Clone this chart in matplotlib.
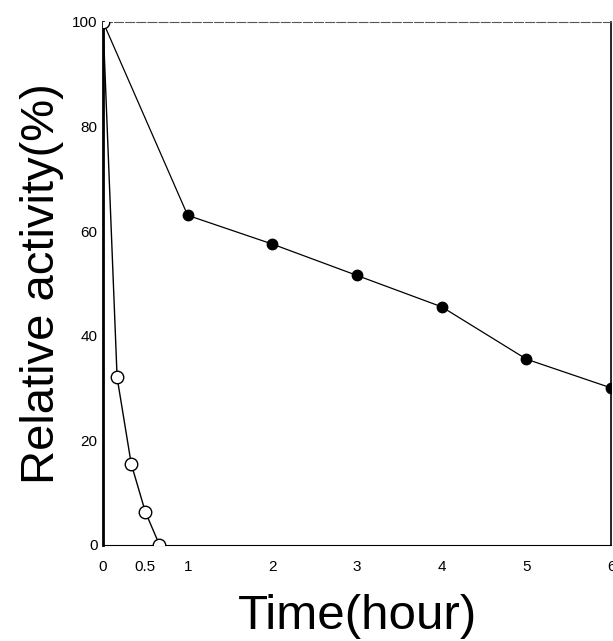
import matplotlib.pyplot as plt

plt.rcParams['font.family'] = ['Liberation Sans', 'DejaVu Sans']

# open circles: fast inactivation (time in hours)
t_open = [0, 1/6, 1/3, 1/2, 2/3]
act_open = [100, 32, 15.5, 6.3, 0]

# filled circles: slow inactivation
t_fill = [0, 1, 2, 3, 4, 5, 6]
act_fill = [100, 63, 57.5, 51.5, 45.5, 35.5, 30]

x_ticks = [0, 0.5, 1, 2, 3, 4, 5, 6]
x_labels = ['0', '0.5', '1', '2', '3', '4', '5', '6']
y_ticks = [0, 20, 40, 60, 80, 100]

fig = plt.figure(figsize=(6.13, 6.41), dpi=100)
ax = fig.add_axes([0.168, 0.15, 0.829, 0.816])

ax.plot(t_fill, act_fill, color='black', lw=0.9, marker='o', ms=7.5,
        mfc='black', mec='black', zorder=2)
ax.plot(t_open, act_open, color='black', lw=1.0, marker='o', ms=9,
        mfc='white', mec='black', mew=1.0, zorder=3)

ax.set_xlim(0, 6)
ax.set_ylim(0, 100)
ax.set_xticks(x_ticks)
ax.set_xticklabels(x_labels)
ax.set_yticks(y_ticks)
ax.tick_params(length=0, labelsize=11)
ax.tick_params(axis='x', pad=11)
ax.tick_params(axis='y', pad=4)

ax.spines['left'].set_linewidth(2)
ax.spines['bottom'].set_linewidth(0.8)
ax.spines['right'].set_linewidth(1.2)
ax.spines['top'].set_linewidth(0.8)
ax.spines['top'].set_linestyle((0, (8, 2)))
ax.spines['top'].set_color('#555555')

ax.set_xlabel('Time(hour)', fontsize=35.5, labelpad=14)
ax.set_ylabel('Relative activity(%)', fontsize=34, labelpad=6)

fig.savefig('out.png', dpi=100)
